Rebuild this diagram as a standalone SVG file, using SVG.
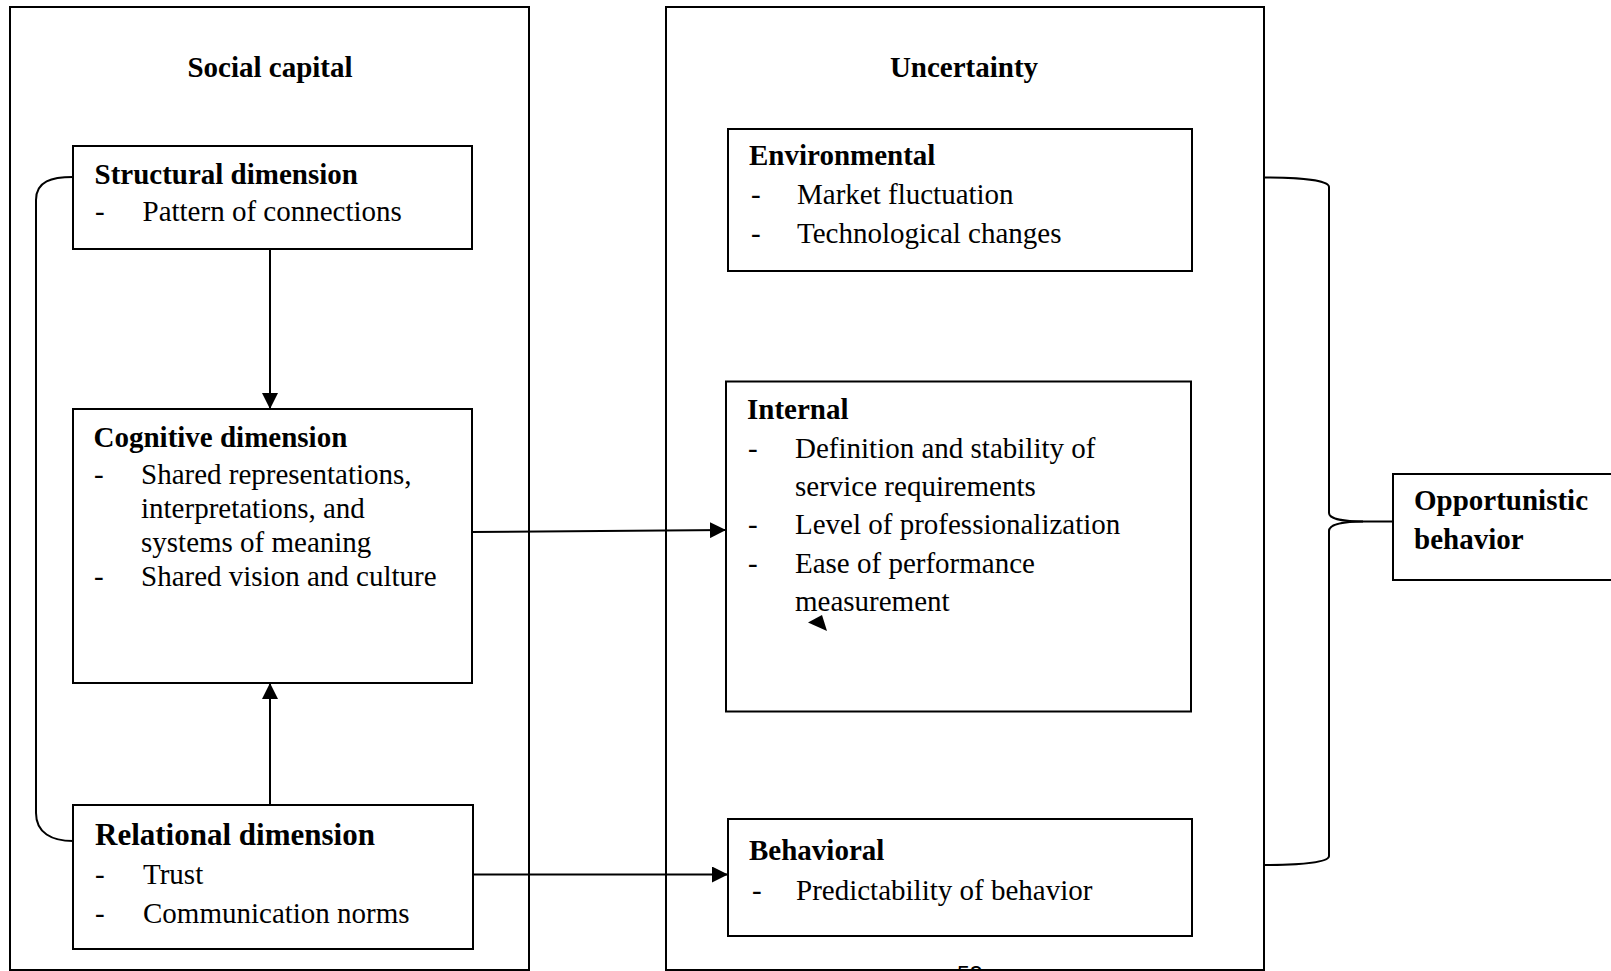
<svg xmlns="http://www.w3.org/2000/svg" width="1611" height="971" viewBox="0 0 1611 971">
<defs>
<style>
.box{fill:none;stroke:#000;stroke-width:2}
.ln{fill:none;stroke:#000;stroke-width:2}
text{font-family:"Liberation Serif","Times New Roman",serif;font-size:29px;fill:#000}
.b{font-weight:bold}
.big{font-size:31px}
.pg{font-family:"Liberation Sans",Arial,sans-serif;font-size:23px}
</style>
<marker id="ah" markerUnits="userSpaceOnUse" markerWidth="16" markerHeight="16" refX="16" refY="8" orient="auto">
<path d="M0,0 L16,8 L0,16 z" fill="#000"/>
</marker>
</defs>
<rect width="1611" height="971" fill="#fff"/>

<g id="social-capital">
<rect class="box" x="10" y="7" width="519" height="963"/>
<text class="b" x="270" y="77" text-anchor="middle">Social capital</text>
</g>

<g id="uncertainty">
<rect class="box" x="666" y="7" width="598" height="963"/>
<text class="b" x="964" y="77" text-anchor="middle">Uncertainty</text>
</g>

<g id="structural">
<rect class="box" x="73" y="146" width="399" height="103"/>
<text class="b" x="94.5" y="184">Structural dimension</text>
<text x="95" y="221">-</text>
<text x="142.5" y="221">Pattern of connections</text>
</g>

<g id="cognitive">
<rect class="box" x="73" y="409" width="399" height="274"/>
<text class="b" x="93.5" y="447">Cognitive dimension</text>
<text x="94" y="483.5">-</text>
<text x="141" y="483.5">Shared representations,</text>
<text x="141" y="517.5">interpretations, and</text>
<text x="141" y="552">systems of meaning</text>
<text x="94" y="586">-</text>
<text x="141" y="586">Shared vision and culture</text>
</g>

<g id="relational">
<rect class="box" x="73" y="805" width="400" height="144"/>
<text class="b big" x="95" y="845">Relational dimension</text>
<text x="95" y="884">-</text>
<text x="143" y="884">Trust</text>
<text x="95" y="923">-</text>
<text x="143" y="923">Communication norms</text>
</g>

<g id="environmental">
<rect class="box" x="728" y="129" width="464" height="142"/>
<text class="b" x="749" y="165">Environmental</text>
<text x="751" y="204">-</text>
<text x="797" y="204">Market fluctuation</text>
<text x="751" y="243">-</text>
<text x="797" y="243">Technological changes</text>
</g>

<g id="internal">
<rect class="box" x="726" y="381.5" width="465" height="330"/>
<text class="b" x="747" y="418.5">Internal</text>
<text x="748" y="457.5">-</text>
<text x="795" y="457.5">Definition and stability of</text>
<text x="795" y="496">service requirements</text>
<text x="748" y="534">-</text>
<text x="795" y="534">Level of professionalization</text>
<text x="748" y="573">-</text>
<text x="795" y="573">Ease of performance</text>
<text x="795" y="611">measurement</text>
<polygon points="808,622.5 822,615 827,631" fill="#000"/>
</g>

<g id="behavioral">
<rect class="box" x="728" y="819" width="464" height="117"/>
<text class="b" x="749" y="860">Behavioral</text>
<text x="752" y="899.5">-</text>
<text x="796" y="899.5">Predictability of behavior</text>
</g>

<g id="opportunistic">
<rect class="box" x="1393" y="474" width="222" height="106"/>
<text class="b" x="1414" y="510">Opportunistic</text>
<text class="b" x="1414" y="549">behavior</text>
</g>

<g id="connectors">
<line class="ln" x1="270" y1="249" x2="270" y2="409" marker-end="url(#ah)"/>
<line class="ln" x1="270" y1="805" x2="270" y2="683" marker-end="url(#ah)"/>
<line class="ln" x1="471" y1="532" x2="726" y2="530" marker-end="url(#ah)"/>
<line class="ln" x1="473" y1="874.5" x2="728" y2="874.5" marker-end="url(#ah)"/>
<path class="ln" d="M73,177 C52,177 36,181 36,200 L36,813 C36,833 52,841 73,841"/>
<path class="ln" d="M1264,177.5 C1305,177.5 1329,181 1329,187 L1329,513 C1329,519 1345,521.5 1363,521.5 L1393,521.5"/>
<path class="ln" d="M1363,521.5 C1345,521.5 1329,524 1329,531 L1329,856 C1329,862 1305,865 1264,865"/>
</g>

<text class="pg" x="957" y="983">53</text>
</svg>
